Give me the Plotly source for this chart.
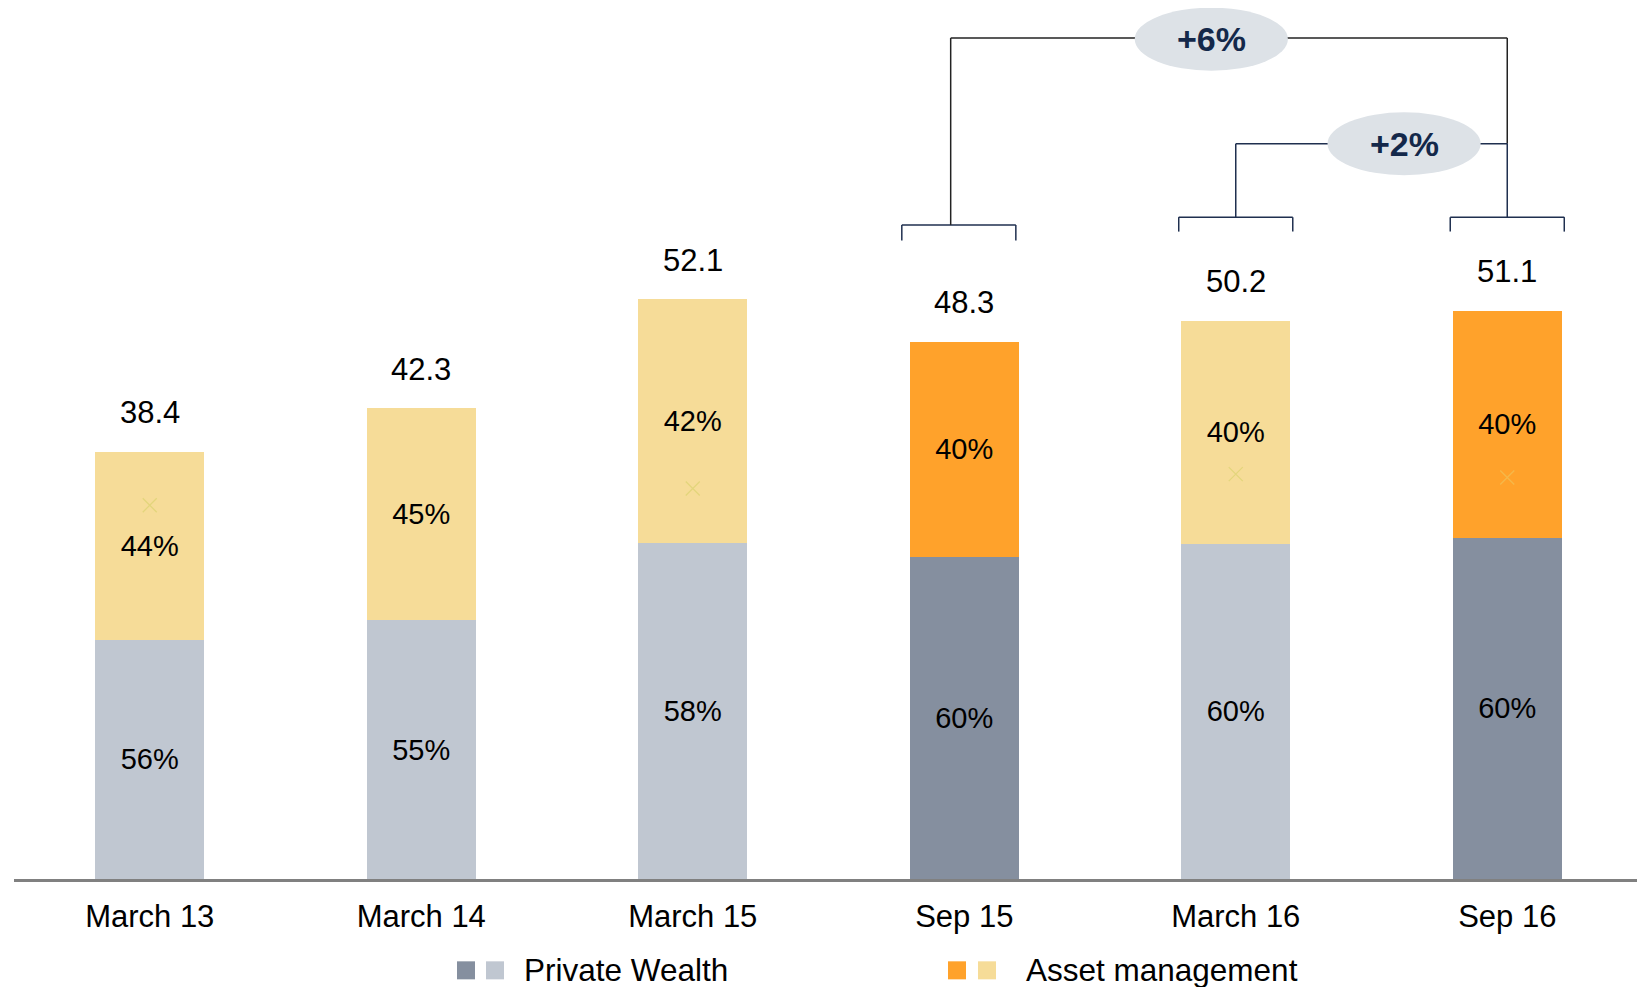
import plotly.graph_objects as go

categories = ["March 13", "March 14", "March 15", "Sep 15", "March 16", "Sep 16"]
totals = [38.4, 42.3, 52.1, 48.3, 50.2, 51.1]
pw_share = [56, 55, 58, 60, 60, 60]
am_share = [44, 45, 42, 40, 40, 40]
highlight = [False, False, False, True, False, True]
marker_x_y = [33.6, None, 35.1, None, 36.4, 36.1]

PW_LIGHT, PW_DARK = "#C0C7D1", "#858F9F"
AM_LIGHT, AM_DARK = "#F6DC98", "#FFA22B"
NAVY = "#1F2F4F"
FONT = "Liberation Sans"

# page body has an 8px margin, so the figure is sized/offset to compensate
OFF = 8
W, H = 1645 - OFF, 987 - OFF
L = 14 - OFF
PX_PER_CAT = 271.5
PLOT_W = W - L
R = 0
AXIS_Y = 878.7 - OFF
B = H - AXIS_Y
T = 0
PX_PER_UNIT = 11.12
YMAX = AXIS_Y / PX_PER_UNIT
XMAX = -0.5 + PLOT_W / PX_PER_CAT

pw_vals = [t * p / 100 for t, p in zip(totals, pw_share)]
am_vals = [t - v for t, v in zip(totals, pw_vals)]

fig = go.Figure()
fig.add_bar(
    x=categories, y=pw_vals, name="Private Wealth",
    marker=dict(color=[PW_DARK if h else PW_LIGHT for h in highlight], line=dict(width=0)),
    text=[f"{p}%" for p in pw_share], textposition="inside", insidetextanchor="middle",
    textangle=0, textfont=dict(size=29, color="black", family=FONT), width=0.4,
    hoverinfo="skip",
)
fig.add_bar(
    x=categories, y=am_vals, name="Asset management",
    marker=dict(color=[AM_DARK if h else AM_LIGHT for h in highlight], line=dict(width=0)),
    text=[f"{p}%" for p in am_share], textposition="inside", insidetextanchor="middle",
    textangle=0, textfont=dict(size=29, color="black", family=FONT), width=0.4,
    hoverinfo="skip",
)
fig.add_scatter(
    x=categories, y=marker_x_y, mode="markers",
    marker=dict(symbol="x-thin", size=14,
                line=dict(width=1.3, color=["#E3D57C" if not h else "#F5B84A" for h in highlight])),
    hoverinfo="skip", showlegend=False,
)

# total labels
for i, t in enumerate(totals):
    fig.add_annotation(x=i, y=t, text=f"{t:.1f}", showarrow=False, yanchor="middle",
                       yshift=39, font=dict(size=31, color="black", family=FONT))

# brackets
def line(x0, y0, x1, y1, color=NAVY):
    fig.add_shape(type="line", xref="x", yref="y", x0=x0, y0=y0, x1=x1, y1=y1,
                  line=dict(color=color, width=1.5))

def bracket(idx, y, drop, half=0.21):
    line(idx - half, y, idx + half, y)
    line(idx - half, y, idx - half, y - drop)
    line(idx + half, y, idx + half, y - drop)

bracket(2.98, 58.8, 1.4)
bracket(4, 59.5, 1.3)
bracket(5, 59.5, 1.3)

# +6% connector
line(2.95, 58.8, 2.95, 75.6, "#222222")
line(2.95, 75.6, 5.0, 75.6, "#222222")
line(5.0, 75.6, 5.0, 66.1, "#222222")
line(5.0, 66.1, 5.0, 59.5)
# +2% connector
line(4.0, 59.5, 4.0, 66.1)
line(4.0, 66.1, 5.0, 66.1)

def bubble(cx, cy, text):
    fig.add_shape(type="circle", xref="x", yref="y", x0=cx - 0.282, x1=cx + 0.282,
                  y0=cy - 2.83, y1=cy + 2.83, fillcolor="#DDE2E7", line=dict(width=0))
    fig.add_annotation(x=cx, y=cy, text=f"<b>{text}</b>", showarrow=False,
                       font=dict(size=34, color="#14284A", family=FONT))

bubble(3.91, 75.5, "+6%")
bubble(4.62, 66.1, "+2%")

# legend (reference page pixels -> paper coords)
def px(xp):
    return (xp - OFF - L) / PLOT_W
def py(yp):
    return (AXIS_Y - (yp - OFF)) / (H - T - B)

def sq(cx, cy, color, s=18):
    fig.add_shape(type="rect", xref="paper", yref="paper",
                  x0=px(cx - s / 2), x1=px(cx + s / 2), y0=py(cy + s / 2), y1=py(cy - s / 2),
                  fillcolor=color, line=dict(width=0))

LEG_Y = 970
sq(466, LEG_Y, PW_DARK)
sq(495, LEG_Y, PW_LIGHT)
sq(957, LEG_Y, AM_DARK)
sq(987, LEG_Y, AM_LIGHT)
fig.add_annotation(xref="paper", yref="paper", x=px(522), y=py(LEG_Y), text="Private Wealth",
                   showarrow=False, xanchor="left", yanchor="middle",
                   font=dict(size=31.5, color="black", family=FONT))
fig.add_annotation(xref="paper", yref="paper", x=px(1024), y=py(LEG_Y), text="Asset management",
                   showarrow=False, xanchor="left", yanchor="middle",
                   font=dict(size=31.5, color="black", family=FONT))

fig.update_layout(
    barmode="stack", width=W, height=H, showlegend=False,
    margin=dict(l=L, r=R, t=T, b=B, autoexpand=False),
    paper_bgcolor="white", plot_bgcolor="white",
    font=dict(family=FONT, color="black"),
    xaxis=dict(range=[-0.5, XMAX], showline=True, linecolor="#808080", linewidth=3,
               showgrid=False, zeroline=False, tickfont=dict(size=31, color="black", family=FONT),
               ticks="", ticklabelstandoff=8, fixedrange=True),
    yaxis=dict(range=[0, YMAX], visible=False, showgrid=False, zeroline=False),
)

fig.write_html("out.html")
